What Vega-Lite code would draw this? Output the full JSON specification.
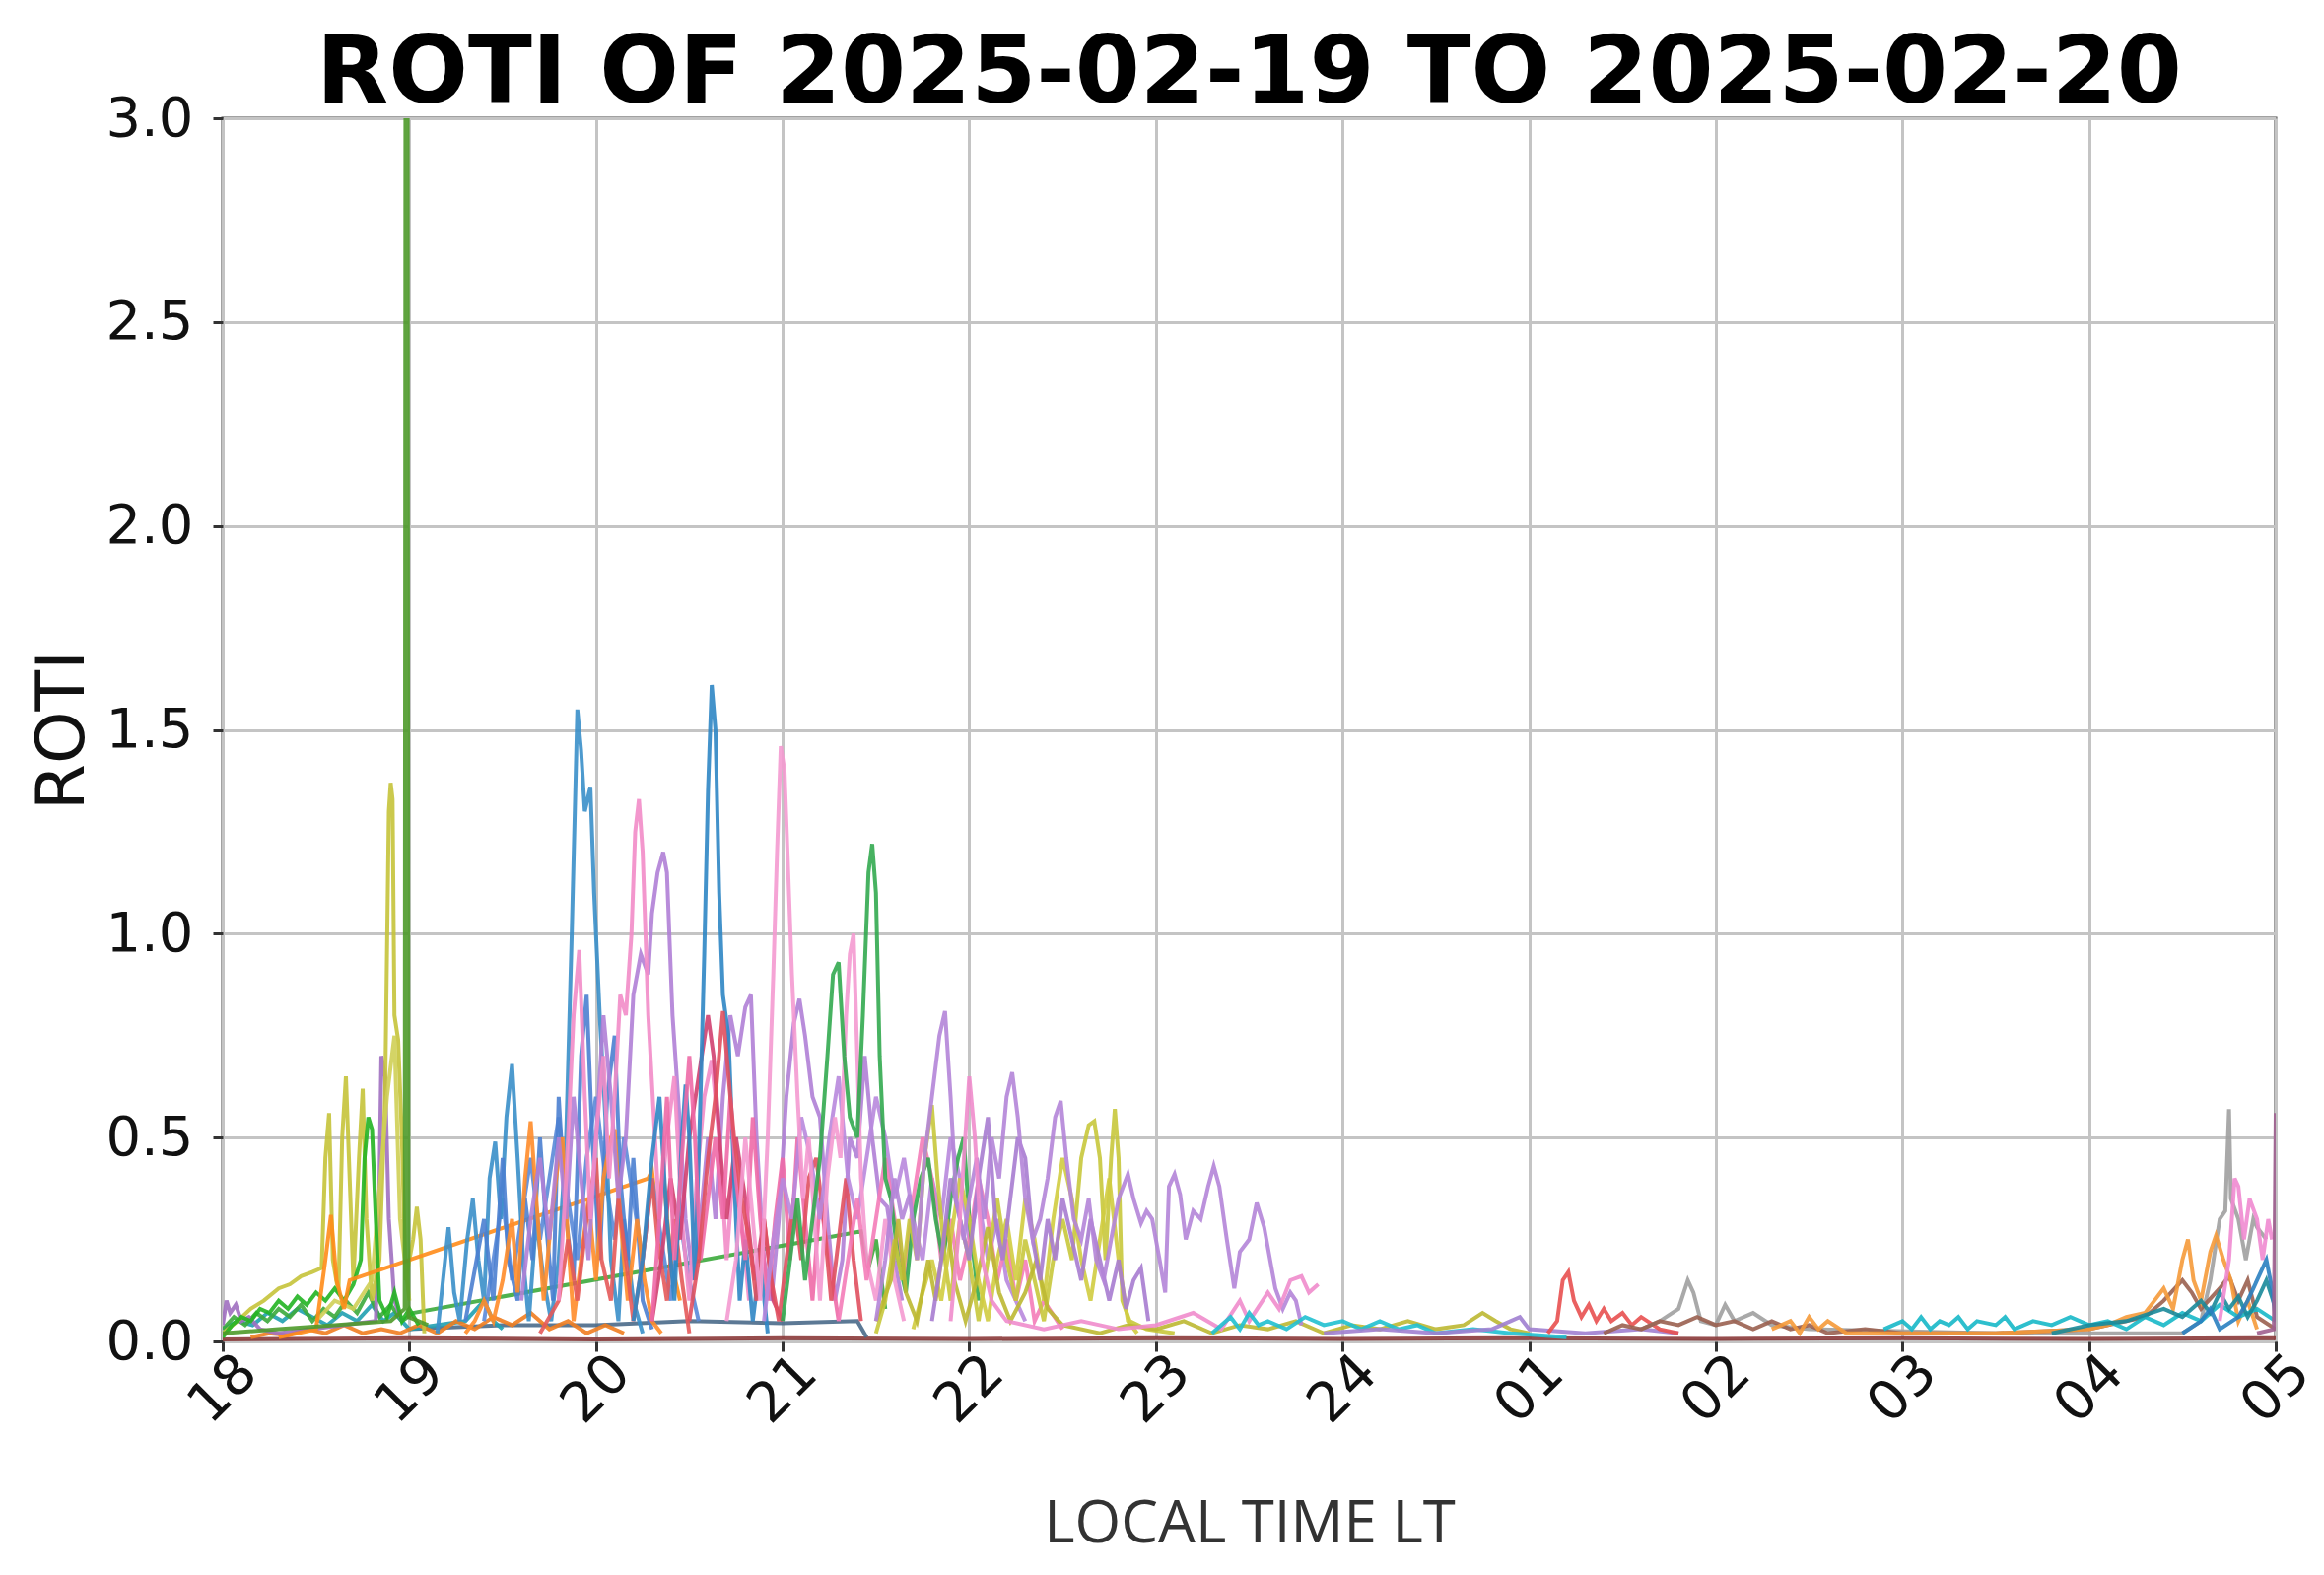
{
"$schema": "https://vega.github.io/schema/vega-lite/v6.json",
"width": 2083, "height": 1241,
"autosize": {"type": "none"},
"padding": {"left": 226, "top": 120, "right": 49, "bottom": 237},
"background": "white",
"title": {"text": "ROTI OF 2025-02-19 TO 2025-02-20", "font": "DejaVu Sans", "fontSize": 95, "fontWeight": "bold", "color": "#000", "anchor": "middle", "offset": -32},
"config": {"font": "DejaVu Sans", "view": {"stroke": "#444", "strokeWidth": 3}},
"data": {"values": [
{"sat":"BASE","t":18.0,"roti":0.005},{"sat":"BASE","t":19.0,"roti":0.008},{"sat":"BASE","t":20.0,"roti":0.005},{"sat":"BASE","t":21.0,"roti":0.008},{"sat":"BASE","t":22.0,"roti":0.006},{"sat":"BASE","t":23.0,"roti":0.008},{"sat":"BASE","t":24.0,"roti":0.006},{"sat":"BASE","t":25.0,"roti":0.008},{"sat":"BASE","t":26.0,"roti":0.006},{"sat":"BASE","t":27.0,"roti":0.008},{"sat":"BASE","t":28.0,"roti":0.006},{"sat":"BASE","t":29.0,"roti":0.008},
{"sat":"SL","t":19.0,"roti":0.03},{"sat":"SL","t":19.5,"roti":0.04},{"sat":"SL","t":20.0,"roti":0.04},{"sat":"SL","t":20.5,"roti":0.05},{"sat":"SL","t":21.0,"roti":0.045},{"sat":"SL","t":21.4,"roti":0.05},{"sat":"SL","t":21.45,"roti":0.01},
{"sat":"C2","t":18.0,"roti":0.03},{"sat":"C2","t":18.08,"roti":0.05},{"sat":"C2","t":18.16,"roti":0.04},{"sat":"C2","t":18.24,"roti":0.07},{"sat":"C2","t":18.32,"roti":0.05},{"sat":"C2","t":18.4,"roti":0.08},{"sat":"C2","t":18.48,"roti":0.06},{"sat":"C2","t":18.56,"roti":0.04},{"sat":"C2","t":18.64,"roti":0.07},{"sat":"C2","t":18.72,"roti":0.05},{"sat":"C2","t":18.8,"roti":0.09},{"sat":"C2","t":18.86,"roti":0.05},{"sat":"C2","t":18.92,"roti":0.07},{"sat":"C2","t":19.0,"roti":0.03},{"sat":"C2","t":19.3,"roti":0.05},{"sat":"C2","t":19.4,"roti":0.1},{"sat":"C2","t":19.45,"roti":0.05},{"sat":"C2","t":19.5,"roti":0.03},
{"sat":"O3","t":18.15,"roti":0.01},{"sat":"O3","t":18.25,"roti":0.02},{"sat":"O3","t":18.35,"roti":0.015},{"sat":"O3","t":18.45,"roti":0.03},{"sat":"O3","t":18.55,"roti":0.02},{"sat":"O3","t":18.65,"roti":0.04},{"sat":"O3","t":18.75,"roti":0.02},{"sat":"O3","t":18.85,"roti":0.03},{"sat":"O3","t":18.95,"roti":0.02},{"sat":"O3","t":19.05,"roti":0.04},{"sat":"O3","t":19.15,"roti":0.02},{"sat":"O3","t":19.25,"roti":0.05},{"sat":"O3","t":19.35,"roti":0.03},{"sat":"O3","t":19.45,"roti":0.06},{"sat":"O3","t":19.55,"roti":0.04},{"sat":"O3","t":19.65,"roti":0.07},{"sat":"O3","t":19.75,"roti":0.03},{"sat":"O3","t":19.85,"roti":0.05},{"sat":"O3","t":19.95,"roti":0.02},{"sat":"O3","t":20.05,"roti":0.04},{"sat":"O3","t":20.15,"roti":0.02},
{"sat":"G3","t":18.0,"roti":0.03},{"sat":"G3","t":18.06,"roti":0.06},{"sat":"G3","t":18.12,"roti":0.04},{"sat":"G3","t":18.18,"roti":0.07},{"sat":"G3","t":18.24,"roti":0.05},{"sat":"G3","t":18.3,"roti":0.08},{"sat":"G3","t":18.36,"roti":0.06},{"sat":"G3","t":18.42,"roti":0.09},{"sat":"G3","t":18.48,"roti":0.05},{"sat":"G3","t":18.54,"roti":0.08},{"sat":"G3","t":18.6,"roti":0.06},{"sat":"G3","t":18.66,"roti":0.1},{"sat":"G3","t":18.72,"roti":0.07},{"sat":"G3","t":18.78,"roti":0.12},{"sat":"G3","t":18.84,"roti":0.06},{"sat":"G3","t":18.9,"roti":0.09},{"sat":"G3","t":18.96,"roti":0.05},{"sat":"G3","t":19.02,"roti":0.07},{"sat":"G3","t":21.42,"roti":0.27},{"sat":"G3","t":21.46,"roti":0.18},{"sat":"G3","t":21.5,"roti":0.25},{"sat":"G3","t":21.55,"roti":0.08},
{"sat":"P0","t":18.0,"roti":0.04},{"sat":"P0","t":18.02,"roti":0.1},{"sat":"P0","t":18.04,"roti":0.07},{"sat":"P0","t":18.07,"roti":0.09},{"sat":"P0","t":18.1,"roti":0.05},{"sat":"P0","t":18.14,"roti":0.06},{"sat":"P0","t":18.2,"roti":0.03},{"sat":"P0","t":18.3,"roti":0.02},{"sat":"P0","t":18.82,"roti":0.05},{"sat":"P0","t":18.84,"roti":0.4},{"sat":"P0","t":18.85,"roti":0.7},{"sat":"P0","t":18.87,"roti":0.65},{"sat":"P0","t":18.89,"roti":0.3},{"sat":"P0","t":18.92,"roti":0.1},{"sat":"P0","t":18.96,"roti":0.05},
{"sat":"Y1","t":18.0,"roti":0.02},{"sat":"Y1","t":18.08,"roti":0.05},{"sat":"Y1","t":18.15,"roti":0.08},{"sat":"Y1","t":18.22,"roti":0.1},{"sat":"Y1","t":18.3,"roti":0.13},{"sat":"Y1","t":18.36,"roti":0.14},{"sat":"Y1","t":18.42,"roti":0.16},{"sat":"Y1","t":18.48,"roti":0.17},{"sat":"Y1","t":18.53,"roti":0.18},{"sat":"Y1","t":18.55,"roti":0.45},{"sat":"Y1","t":18.57,"roti":0.56},{"sat":"Y1","t":18.59,"roti":0.2},{"sat":"Y1","t":18.62,"roti":0.12},{"sat":"Y1","t":18.64,"roti":0.5},{"sat":"Y1","t":18.66,"roti":0.65},{"sat":"Y1","t":18.68,"roti":0.4},{"sat":"Y1","t":18.7,"roti":0.15},{"sat":"Y1","t":18.73,"roti":0.45},{"sat":"Y1","t":18.75,"roti":0.62},{"sat":"Y1","t":18.77,"roti":0.3},{"sat":"Y1","t":18.8,"roti":0.1},{"sat":"Y1","t":18.84,"roti":0.2},{"sat":"Y1","t":18.87,"roti":0.6},{"sat":"Y1","t":18.89,"roti":1.3},{"sat":"Y1","t":18.9,"roti":1.37},{"sat":"Y1","t":18.91,"roti":1.33},{"sat":"Y1","t":18.92,"roti":0.8},{"sat":"Y1","t":18.94,"roti":0.74},{"sat":"Y1","t":18.96,"roti":0.5},{"sat":"Y1","t":18.98,"roti":0.15},{"sat":"Y1","t":19.02,"roti":0.25},{"sat":"Y1","t":19.04,"roti":0.33},{"sat":"Y1","t":19.06,"roti":0.25},{"sat":"Y1","t":19.08,"roti":0.02},
{"sat":"Y2","t":18.5,"roti":0.05},{"sat":"Y2","t":18.6,"roti":0.1},{"sat":"Y2","t":18.7,"roti":0.08},{"sat":"Y2","t":18.8,"roti":0.15},{"sat":"Y2","t":18.88,"roti":0.6},{"sat":"Y2","t":18.92,"roti":0.75},{"sat":"Y2","t":18.95,"roti":0.3},{"sat":"Y2","t":19.0,"roti":0.1},
{"sat":"G2","t":18.0,"roti":0.01},{"sat":"G2","t":18.05,"roti":0.04},{"sat":"G2","t":18.1,"roti":0.06},{"sat":"G2","t":18.15,"roti":0.05},{"sat":"G2","t":18.2,"roti":0.08},{"sat":"G2","t":18.25,"roti":0.07},{"sat":"G2","t":18.3,"roti":0.1},{"sat":"G2","t":18.35,"roti":0.08},{"sat":"G2","t":18.4,"roti":0.11},{"sat":"G2","t":18.45,"roti":0.09},{"sat":"G2","t":18.5,"roti":0.12},{"sat":"G2","t":18.55,"roti":0.1},{"sat":"G2","t":18.6,"roti":0.13},{"sat":"G2","t":18.65,"roti":0.1},{"sat":"G2","t":18.7,"roti":0.14},{"sat":"G2","t":18.74,"roti":0.2},{"sat":"G2","t":18.76,"roti":0.45},{"sat":"G2","t":18.78,"roti":0.55},{"sat":"G2","t":18.8,"roti":0.52},{"sat":"G2","t":18.82,"roti":0.3},{"sat":"G2","t":18.84,"roti":0.1},{"sat":"G2","t":18.88,"roti":0.06},{"sat":"G2","t":18.92,"roti":0.12},{"sat":"G2","t":18.96,"roti":0.05},{"sat":"G2","t":19.0,"roti":0.08},{"sat":"G2","t":19.05,"roti":0.04},
{"sat":"O1","t":18.3,"roti":0.01},{"sat":"O1","t":18.4,"roti":0.02},{"sat":"O1","t":18.5,"roti":0.03},{"sat":"O1","t":18.55,"roti":0.2},{"sat":"O1","t":18.58,"roti":0.31},{"sat":"O1","t":18.61,"roti":0.15},{"sat":"O1","t":18.65,"roti":0.08},{"sat":"O1","t":18.68,"roti":0.15},{"sat":"O1","t":20.28,"roti":0.4},{"sat":"O1","t":20.3,"roti":0.42},{"sat":"O1","t":20.33,"roti":0.3},{"sat":"O1","t":20.36,"roti":0.42},{"sat":"O1","t":20.4,"roti":0.2},{"sat":"O1","t":20.45,"roti":0.1},
{"sat":"G1","t":18.0,"roti":0.02},{"sat":"G1","t":18.3,"roti":0.03},{"sat":"G1","t":18.6,"roti":0.04},{"sat":"G1","t":18.9,"roti":0.05},{"sat":"G1","t":18.975,"roti":0.08},{"sat":"G1","t":18.98,"roti":3.6},{"sat":"G1","t":18.99,"roti":3.6},{"sat":"G1","t":18.995,"roti":0.06},{"sat":"G1","t":19.1,"roti":0.04},
{"sat":"B4","t":19.4,"roti":0.05},{"sat":"B4","t":19.45,"roti":0.2},{"sat":"B4","t":19.5,"roti":0.35},{"sat":"B4","t":19.55,"roti":0.15},{"sat":"B4","t":19.6,"roti":0.3},{"sat":"B4","t":19.65,"roti":0.45},{"sat":"B4","t":19.7,"roti":0.25},{"sat":"B4","t":19.75,"roti":0.4},{"sat":"B4","t":19.8,"roti":0.55},{"sat":"B4","t":19.85,"roti":0.35},{"sat":"B4","t":19.9,"roti":0.2},{"sat":"B4","t":19.95,"roti":0.45},{"sat":"B4","t":20.0,"roti":0.6},{"sat":"B4","t":20.05,"roti":0.4},{"sat":"B4","t":20.1,"roti":0.25},{"sat":"B4","t":20.15,"roti":0.5},{"sat":"B4","t":20.2,"roti":0.35},{"sat":"B4","t":20.25,"roti":0.2},{"sat":"B4","t":20.3,"roti":0.4},{"sat":"B4","t":20.35,"roti":0.25},{"sat":"B4","t":20.4,"roti":0.1},{"sat":"B4","t":20.45,"roti":0.3},{"sat":"B4","t":20.5,"roti":0.15},{"sat":"B4","t":20.55,"roti":0.05},
{"sat":"B1","t":19.15,"roti":0.02},{"sat":"B1","t":19.18,"roti":0.15},{"sat":"B1","t":19.21,"roti":0.28},{"sat":"B1","t":19.24,"roti":0.12},{"sat":"B1","t":19.27,"roti":0.05},{"sat":"B1","t":19.31,"roti":0.25},{"sat":"B1","t":19.34,"roti":0.35},{"sat":"B1","t":19.37,"roti":0.2},{"sat":"B1","t":19.4,"roti":0.1},{"sat":"B1","t":19.43,"roti":0.4},{"sat":"B1","t":19.46,"roti":0.49},{"sat":"B1","t":19.49,"roti":0.3},{"sat":"B1","t":19.52,"roti":0.55},{"sat":"B1","t":19.55,"roti":0.68},{"sat":"B1","t":19.58,"roti":0.45},{"sat":"B1","t":19.61,"roti":0.2},{"sat":"B1","t":19.64,"roti":0.05},{"sat":"B1","t":19.68,"roti":0.3},{"sat":"B1","t":19.72,"roti":0.15},{"sat":"B1","t":19.76,"roti":0.05},{"sat":"B1","t":19.8,"roti":0.2},{"sat":"B1","t":19.84,"roti":0.5},{"sat":"B1","t":19.87,"roti":1.0},{"sat":"B1","t":19.9,"roti":1.55},{"sat":"B1","t":19.92,"roti":1.45},{"sat":"B1","t":19.94,"roti":1.3},{"sat":"B1","t":19.97,"roti":1.36},{"sat":"B1","t":19.99,"roti":1.1},{"sat":"B1","t":20.02,"roti":0.8},{"sat":"B1","t":20.05,"roti":0.55},{"sat":"B1","t":20.08,"roti":0.2},{"sat":"B1","t":20.12,"roti":0.05},{"sat":"B1","t":20.15,"roti":0.3},{"sat":"B1","t":20.2,"roti":0.1},{"sat":"B1","t":20.25,"roti":0.02},
{"sat":"B3","t":19.3,"roti":0.05},{"sat":"B3","t":19.36,"roti":0.2},{"sat":"B3","t":19.4,"roti":0.3},{"sat":"B3","t":19.45,"roti":0.1},{"sat":"B3","t":19.5,"roti":0.45},{"sat":"B3","t":19.53,"roti":0.2},{"sat":"B3","t":19.58,"roti":0.1},{"sat":"B3","t":19.62,"roti":0.35},{"sat":"B3","t":19.66,"roti":0.2},{"sat":"B3","t":19.7,"roti":0.5},{"sat":"B3","t":19.73,"roti":0.3},{"sat":"B3","t":19.77,"roti":0.1},{"sat":"B3","t":19.8,"roti":0.6},{"sat":"B3","t":19.84,"roti":0.3},{"sat":"B3","t":19.88,"roti":0.15},{"sat":"B3","t":19.92,"roti":0.7},{"sat":"B3","t":19.95,"roti":0.85},{"sat":"B3","t":19.98,"roti":0.5},{"sat":"B3","t":20.02,"roti":0.2},{"sat":"B3","t":20.06,"roti":0.6},{"sat":"B3","t":20.1,"roti":0.75},{"sat":"B3","t":20.13,"roti":0.4},{"sat":"B3","t":20.17,"roti":0.2},{"sat":"B3","t":20.2,"roti":0.45},{"sat":"B3","t":20.25,"roti":0.1},{"sat":"B3","t":20.3,"roti":0.03},
{"sat":"O2","t":19.3,"roti":0.02},{"sat":"O2","t":19.35,"roti":0.05},{"sat":"O2","t":19.4,"roti":0.1},{"sat":"O2","t":19.45,"roti":0.05},{"sat":"O2","t":19.5,"roti":0.15},{"sat":"O2","t":19.55,"roti":0.3},{"sat":"O2","t":19.58,"roti":0.12},{"sat":"O2","t":19.62,"roti":0.4},{"sat":"O2","t":19.65,"roti":0.54},{"sat":"O2","t":19.68,"roti":0.35},{"sat":"O2","t":19.72,"roti":0.1},{"sat":"O2","t":19.76,"roti":0.3},{"sat":"O2","t":19.8,"roti":0.45},{"sat":"O2","t":19.82,"roti":0.5},{"sat":"O2","t":19.85,"roti":0.25},{"sat":"O2","t":19.88,"roti":0.05},{"sat":"O2","t":19.92,"roti":0.2},{"sat":"O2","t":19.96,"roti":0.35},{"sat":"O2","t":20.0,"roti":0.15},{"sat":"O2","t":20.04,"roti":0.4},{"sat":"O2","t":20.08,"roti":0.5},{"sat":"O2","t":20.1,"roti":0.52},{"sat":"O2","t":20.13,"roti":0.3},{"sat":"O2","t":20.17,"roti":0.1},{"sat":"O2","t":20.22,"roti":0.3},{"sat":"O2","t":20.26,"roti":0.15},{"sat":"O2","t":20.3,"roti":0.05},{"sat":"O2","t":20.35,"roti":0.02},
{"sat":"R2","t":19.7,"roti":0.02},{"sat":"R2","t":19.8,"roti":0.1},{"sat":"R2","t":19.85,"roti":0.25},{"sat":"R2","t":19.9,"roti":0.1},{"sat":"R2","t":19.95,"roti":0.3},{"sat":"R2","t":20.0,"roti":0.45},{"sat":"R2","t":20.03,"roti":0.2},{"sat":"R2","t":20.08,"roti":0.1},{"sat":"R2","t":20.12,"roti":0.35},{"sat":"R2","t":20.16,"roti":0.2},{"sat":"R2","t":20.2,"roti":0.05},{"sat":"R2","t":20.25,"roti":0.2},{"sat":"R2","t":20.3,"roti":0.4},{"sat":"R2","t":20.33,"roti":0.25},{"sat":"R2","t":20.38,"roti":0.1},{"sat":"R2","t":20.42,"roti":0.3},{"sat":"R2","t":20.46,"roti":0.15},{"sat":"R2","t":20.5,"roti":0.02},
{"sat":"P1","t":19.6,"roti":0.1},{"sat":"P1","t":19.65,"roti":0.3},{"sat":"P1","t":19.7,"roti":0.45},{"sat":"P1","t":19.75,"roti":0.25},{"sat":"P1","t":19.8,"roti":0.5},{"sat":"P1","t":19.84,"roti":0.3},{"sat":"P1","t":19.88,"roti":0.6},{"sat":"P1","t":19.92,"roti":0.4},{"sat":"P1","t":19.96,"roti":0.2},{"sat":"P1","t":20.0,"roti":0.5},{"sat":"P1","t":20.04,"roti":0.8},{"sat":"P1","t":20.08,"roti":0.6},{"sat":"P1","t":20.12,"roti":0.35},{"sat":"P1","t":20.16,"roti":0.5},{"sat":"P1","t":20.2,"roti":0.85},{"sat":"P1","t":20.24,"roti":0.95},{"sat":"P1","t":20.28,"roti":0.9},{"sat":"P1","t":20.3,"roti":1.05},{"sat":"P1","t":20.33,"roti":1.15},{"sat":"P1","t":20.36,"roti":1.2},{"sat":"P1","t":20.38,"roti":1.15},{"sat":"P1","t":20.41,"roti":0.8},{"sat":"P1","t":20.44,"roti":0.6},{"sat":"P1","t":20.48,"roti":0.3},{"sat":"P1","t":20.52,"roti":0.15},{"sat":"P1","t":20.56,"roti":0.3},{"sat":"P1","t":20.6,"roti":0.5},{"sat":"P1","t":20.64,"roti":0.3},{"sat":"P1","t":20.68,"roti":0.6},{"sat":"P1","t":20.72,"roti":0.8},{"sat":"P1","t":20.76,"roti":0.7},{"sat":"P1","t":20.8,"roti":0.82},{"sat":"P1","t":20.83,"roti":0.85},{"sat":"P1","t":20.86,"roti":0.5},{"sat":"P1","t":20.9,"roti":0.2},{"sat":"P1","t":20.94,"roti":0.1},{"sat":"P1","t":20.98,"roti":0.3},{"sat":"P1","t":21.02,"roti":0.6},{"sat":"P1","t":21.06,"roti":0.78},{"sat":"P1","t":21.09,"roti":0.84},{"sat":"P1","t":21.12,"roti":0.75},{"sat":"P1","t":21.16,"roti":0.6},{"sat":"P1","t":21.2,"roti":0.55},{"sat":"P1","t":21.24,"roti":0.3},{"sat":"P1","t":21.28,"roti":0.1},{"sat":"P1","t":21.32,"roti":0.2},{"sat":"P1","t":21.36,"roti":0.5},{"sat":"P1","t":21.4,"roti":0.45},{"sat":"P1","t":21.44,"roti":0.7},{"sat":"P1","t":21.48,"roti":0.5},{"sat":"P1","t":21.52,"roti":0.35},{"sat":"P1","t":21.56,"roti":0.33},{"sat":"P1","t":21.6,"roti":0.2},{"sat":"P1","t":21.64,"roti":0.1},
{"sat":"K1","t":19.8,"roti":0.1},{"sat":"K1","t":19.84,"roti":0.4},{"sat":"K1","t":19.88,"roti":0.8},{"sat":"K1","t":19.91,"roti":0.96},{"sat":"K1","t":19.94,"roti":0.6},{"sat":"K1","t":19.97,"roti":0.3},{"sat":"K1","t":20.0,"roti":0.5},{"sat":"K1","t":20.04,"roti":0.7},{"sat":"K1","t":20.07,"roti":0.4},{"sat":"K1","t":20.1,"roti":0.6},{"sat":"K1","t":20.13,"roti":0.85},{"sat":"K1","t":20.16,"roti":0.8},{"sat":"K1","t":20.19,"roti":1.0},{"sat":"K1","t":20.21,"roti":1.25},{"sat":"K1","t":20.23,"roti":1.33},{"sat":"K1","t":20.25,"roti":1.2},{"sat":"K1","t":20.28,"roti":0.8},{"sat":"K1","t":20.31,"roti":0.55},{"sat":"K1","t":20.34,"roti":0.3},{"sat":"K1","t":20.38,"roti":0.5},{"sat":"K1","t":20.42,"roti":0.65},{"sat":"K1","t":20.46,"roti":0.3},{"sat":"K1","t":20.5,"roti":0.1},{"sat":"K1","t":20.54,"roti":0.4},{"sat":"K1","t":20.58,"roti":0.6},{"sat":"K1","t":20.62,"roti":0.69},{"sat":"K1","t":20.66,"roti":0.5},{"sat":"K1","t":20.7,"roti":0.2},{"sat":"K1","t":20.74,"roti":0.45},{"sat":"K1","t":20.78,"roti":0.3},{"sat":"K1","t":20.82,"roti":0.1},
{"sat":"M1","t":20.3,"roti":0.05},{"sat":"M1","t":20.35,"roti":0.2},{"sat":"M1","t":20.4,"roti":0.4},{"sat":"M1","t":20.45,"roti":0.25},{"sat":"M1","t":20.5,"roti":0.5},{"sat":"M1","t":20.55,"roti":0.65},{"sat":"M1","t":20.6,"roti":0.8},{"sat":"M1","t":20.63,"roti":0.7},{"sat":"M1","t":20.67,"roti":0.45},{"sat":"M1","t":20.7,"roti":0.3},{"sat":"M1","t":20.75,"roti":0.5},{"sat":"M1","t":20.8,"roti":0.35},{"sat":"M1","t":20.85,"roti":0.15},{"sat":"M1","t":20.9,"roti":0.3},{"sat":"M1","t":20.95,"roti":0.1},{"sat":"M1","t":21.0,"roti":0.05},
{"sat":"B2","t":20.2,"roti":0.05},{"sat":"B2","t":20.25,"roti":0.2},{"sat":"B2","t":20.3,"roti":0.45},{"sat":"B2","t":20.34,"roti":0.6},{"sat":"B2","t":20.38,"roti":0.3},{"sat":"B2","t":20.42,"roti":0.1},{"sat":"B2","t":20.46,"roti":0.5},{"sat":"B2","t":20.48,"roti":0.63},{"sat":"B2","t":20.5,"roti":0.5},{"sat":"B2","t":20.53,"roti":0.15},{"sat":"B2","t":20.56,"roti":0.6},{"sat":"B2","t":20.58,"roti":0.95},{"sat":"B2","t":20.6,"roti":1.35},{"sat":"B2","t":20.62,"roti":1.61},{"sat":"B2","t":20.64,"roti":1.5},{"sat":"B2","t":20.66,"roti":1.1},{"sat":"B2","t":20.68,"roti":0.85},{"sat":"B2","t":20.71,"roti":0.75},{"sat":"B2","t":20.74,"roti":0.4},{"sat":"B2","t":20.77,"roti":0.1},{"sat":"B2","t":20.8,"roti":0.25},{"sat":"B2","t":20.84,"roti":0.05},{"sat":"B2","t":20.88,"roti":0.2},{"sat":"B2","t":20.92,"roti":0.02},
{"sat":"K3","t":20.3,"roti":0.05},{"sat":"K3","t":20.34,"roti":0.3},{"sat":"K3","t":20.38,"roti":0.6},{"sat":"K3","t":20.42,"roti":0.2},{"sat":"K3","t":20.46,"roti":0.45},{"sat":"K3","t":20.5,"roti":0.7},{"sat":"K3","t":20.53,"roti":0.5},{"sat":"K3","t":20.56,"roti":0.2},{"sat":"K3","t":20.6,"roti":0.35},{"sat":"K3","t":20.64,"roti":0.5},{"sat":"K3","t":20.68,"roti":0.3},{"sat":"K3","t":20.72,"roti":0.6},{"sat":"K3","t":20.75,"roti":0.4},{"sat":"K3","t":20.8,"roti":0.2},{"sat":"K3","t":20.84,"roti":0.55},{"sat":"K3","t":20.88,"roti":0.3},{"sat":"K3","t":20.92,"roti":0.1},{"sat":"K3","t":20.96,"roti":0.3},{"sat":"K3","t":21.0,"roti":0.45},{"sat":"K3","t":21.04,"roti":0.2},{"sat":"K3","t":21.08,"roti":0.5},{"sat":"K3","t":21.12,"roti":0.3},{"sat":"K3","t":21.16,"roti":0.1},{"sat":"K3","t":21.2,"roti":0.35},{"sat":"K3","t":21.25,"roti":0.2},{"sat":"K3","t":21.3,"roti":0.05},
{"sat":"R1","t":20.5,"roti":0.05},{"sat":"R1","t":20.55,"roti":0.2},{"sat":"R1","t":20.6,"roti":0.45},{"sat":"R1","t":20.64,"roti":0.6},{"sat":"R1","t":20.68,"roti":0.81},{"sat":"R1","t":20.71,"roti":0.65},{"sat":"R1","t":20.74,"roti":0.5},{"sat":"R1","t":20.78,"roti":0.35},{"sat":"R1","t":20.82,"roti":0.25},{"sat":"R1","t":20.86,"roti":0.1},{"sat":"R1","t":20.9,"roti":0.3},{"sat":"R1","t":20.94,"roti":0.15},{"sat":"R1","t":20.98,"roti":0.05},{"sat":"R1","t":21.02,"roti":0.2},{"sat":"R1","t":21.06,"roti":0.35},{"sat":"R1","t":21.1,"roti":0.2},{"sat":"R1","t":21.14,"roti":0.4},{"sat":"R1","t":21.18,"roti":0.45},{"sat":"R1","t":21.22,"roti":0.3},{"sat":"R1","t":21.26,"roti":0.1},{"sat":"R1","t":21.3,"roti":0.25},{"sat":"R1","t":21.34,"roti":0.4},{"sat":"R1","t":21.38,"roti":0.2},{"sat":"R1","t":21.42,"roti":0.05},
{"sat":"P4","t":20.9,"roti":0.05},{"sat":"P4","t":20.95,"roti":0.25},{"sat":"P4","t":21.0,"roti":0.4},{"sat":"P4","t":21.05,"roti":0.3},{"sat":"P4","t":21.1,"roti":0.55},{"sat":"P4","t":21.15,"roti":0.45},{"sat":"P4","t":21.2,"roti":0.3},{"sat":"P4","t":21.25,"roti":0.5},{"sat":"P4","t":21.3,"roti":0.65},{"sat":"P4","t":21.35,"roti":0.4},{"sat":"P4","t":21.4,"roti":0.3},{"sat":"P4","t":21.45,"roti":0.45},{"sat":"P4","t":21.5,"roti":0.6},{"sat":"P4","t":21.55,"roti":0.5},{"sat":"P4","t":21.6,"roti":0.35},{"sat":"P4","t":21.65,"roti":0.45},{"sat":"P4","t":21.7,"roti":0.3},{"sat":"P4","t":21.75,"roti":0.2},{"sat":"P4","t":21.8,"roti":0.4},{"sat":"P4","t":21.85,"roti":0.3},{"sat":"P4","t":21.9,"roti":0.5},{"sat":"P4","t":21.95,"roti":0.4},{"sat":"P4","t":22.0,"roti":0.25},{"sat":"P4","t":22.05,"roti":0.35},{"sat":"P4","t":22.1,"roti":0.2},{"sat":"P4","t":22.15,"roti":0.3},{"sat":"P4","t":22.2,"roti":0.15},{"sat":"P4","t":22.25,"roti":0.1},{"sat":"P4","t":22.3,"roti":0.05},
{"sat":"K2","t":20.7,"roti":0.05},{"sat":"K2","t":20.75,"roti":0.2},{"sat":"K2","t":20.8,"roti":0.5},{"sat":"K2","t":20.84,"roti":0.3},{"sat":"K2","t":20.88,"roti":0.1},{"sat":"K2","t":20.92,"roti":0.5},{"sat":"K2","t":20.95,"roti":0.9},{"sat":"K2","t":20.97,"roti":1.2},{"sat":"K2","t":20.99,"roti":1.46},{"sat":"K2","t":21.01,"roti":1.4},{"sat":"K2","t":21.03,"roti":1.15},{"sat":"K2","t":21.05,"roti":0.9},{"sat":"K2","t":21.08,"roti":0.6},{"sat":"K2","t":21.11,"roti":0.35},{"sat":"K2","t":21.14,"roti":0.5},{"sat":"K2","t":21.17,"roti":0.3},{"sat":"K2","t":21.2,"roti":0.1},{"sat":"K2","t":21.24,"roti":0.4},{"sat":"K2","t":21.28,"roti":0.55},{"sat":"K2","t":21.31,"roti":0.45},{"sat":"K2","t":21.34,"roti":0.8},{"sat":"K2","t":21.36,"roti":0.95},{"sat":"K2","t":21.38,"roti":1.0},{"sat":"K2","t":21.4,"roti":0.7},{"sat":"K2","t":21.42,"roti":0.4},{"sat":"K2","t":21.45,"roti":0.2},{"sat":"K2","t":21.5,"roti":0.1},{"sat":"K2","t":21.55,"roti":0.3},{"sat":"K2","t":21.6,"roti":0.15},{"sat":"K2","t":21.65,"roti":0.05},
{"sat":"K5","t":21.3,"roti":0.05},{"sat":"K5","t":21.35,"roti":0.2},{"sat":"K5","t":21.4,"roti":0.35},{"sat":"K5","t":21.45,"roti":0.15},{"sat":"K5","t":21.5,"roti":0.3},{"sat":"K5","t":21.55,"roti":0.45},{"sat":"K5","t":21.6,"roti":0.3},{"sat":"K5","t":21.65,"roti":0.15},{"sat":"K5","t":21.7,"roti":0.35},{"sat":"K5","t":21.75,"roti":0.5},{"sat":"K5","t":21.8,"roti":0.4},{"sat":"K5","t":21.85,"roti":0.2},{"sat":"K5","t":21.9,"roti":0.3},{"sat":"K5","t":21.95,"roti":0.15},{"sat":"K5","t":22.0,"roti":0.25},{"sat":"K5","t":22.05,"roti":0.4},{"sat":"K5","t":22.1,"roti":0.3},{"sat":"K5","t":22.15,"roti":0.15},{"sat":"K5","t":22.2,"roti":0.25},{"sat":"K5","t":22.25,"roti":0.1},{"sat":"K5","t":22.3,"roti":0.2},{"sat":"K5","t":22.35,"roti":0.05},{"sat":"K5","t":22.4,"roti":0.1},{"sat":"K5","t":22.5,"roti":0.03},
{"sat":"GR","t":21.0,"roti":0.05},{"sat":"GR","t":21.04,"roti":0.2},{"sat":"GR","t":21.08,"roti":0.35},{"sat":"GR","t":21.12,"roti":0.15},{"sat":"GR","t":21.16,"roti":0.3},{"sat":"GR","t":21.2,"roti":0.45},{"sat":"GR","t":21.24,"roti":0.7},{"sat":"GR","t":21.27,"roti":0.9},{"sat":"GR","t":21.3,"roti":0.93},{"sat":"GR","t":21.33,"roti":0.7},{"sat":"GR","t":21.36,"roti":0.55},{"sat":"GR","t":21.4,"roti":0.5},{"sat":"GR","t":21.43,"roti":0.8},{"sat":"GR","t":21.46,"roti":1.15},{"sat":"GR","t":21.48,"roti":1.22},{"sat":"GR","t":21.5,"roti":1.1},{"sat":"GR","t":21.52,"roti":0.7},{"sat":"GR","t":21.55,"roti":0.4},{"sat":"GR","t":21.58,"roti":0.35},{"sat":"GR","t":21.62,"roti":0.2},{"sat":"GR","t":21.66,"roti":0.12},{"sat":"GR","t":21.7,"roti":0.3},{"sat":"GR","t":21.74,"roti":0.4},{"sat":"GR","t":21.78,"roti":0.45},{"sat":"GR","t":21.82,"roti":0.3},{"sat":"GR","t":21.86,"roti":0.2},{"sat":"GR","t":21.9,"roti":0.35},{"sat":"GR","t":21.94,"roti":0.45},{"sat":"GR","t":21.97,"roti":0.5},{"sat":"GR","t":22.0,"roti":0.3},{"sat":"GR","t":22.05,"roti":0.1},
{"sat":"Y3","t":21.5,"roti":0.02},{"sat":"Y3","t":21.55,"roti":0.1},{"sat":"Y3","t":21.6,"roti":0.25},{"sat":"Y3","t":21.64,"roti":0.15},{"sat":"Y3","t":21.68,"roti":0.3},{"sat":"Y3","t":21.72,"roti":0.2},{"sat":"Y3","t":21.76,"roti":0.45},{"sat":"Y3","t":21.8,"roti":0.58},{"sat":"Y3","t":21.83,"roti":0.4},{"sat":"Y3","t":21.87,"roti":0.2},{"sat":"Y3","t":21.9,"roti":0.1},{"sat":"Y3","t":21.95,"roti":0.3},{"sat":"Y3","t":22.0,"roti":0.2},{"sat":"Y3","t":22.05,"roti":0.05},{"sat":"Y3","t":22.1,"roti":0.2},{"sat":"Y3","t":22.15,"roti":0.35},{"sat":"Y3","t":22.2,"roti":0.2},{"sat":"Y3","t":22.25,"roti":0.1},{"sat":"Y3","t":22.3,"roti":0.25},{"sat":"Y3","t":22.35,"roti":0.15},{"sat":"Y3","t":22.4,"roti":0.05},{"sat":"Y3","t":22.45,"roti":0.2},{"sat":"Y3","t":22.5,"roti":0.3},{"sat":"Y3","t":22.55,"roti":0.2},{"sat":"Y3","t":22.6,"roti":0.45},{"sat":"Y3","t":22.64,"roti":0.53},{"sat":"Y3","t":22.67,"roti":0.54},{"sat":"Y3","t":22.7,"roti":0.45},{"sat":"Y3","t":22.73,"roti":0.2},{"sat":"Y3","t":22.76,"roti":0.45},{"sat":"Y3","t":22.78,"roti":0.57},{"sat":"Y3","t":22.8,"roti":0.45},{"sat":"Y3","t":22.82,"roti":0.1},{"sat":"Y3","t":22.86,"roti":0.05},{"sat":"Y3","t":22.95,"roti":0.03},{"sat":"Y3","t":23.1,"roti":0.02},
{"sat":"Y5","t":21.7,"roti":0.03},{"sat":"Y5","t":21.75,"roti":0.12},{"sat":"Y5","t":21.8,"roti":0.2},{"sat":"Y5","t":21.85,"roti":0.1},{"sat":"Y5","t":21.9,"roti":0.25},{"sat":"Y5","t":21.95,"roti":0.4},{"sat":"Y5","t":22.0,"roti":0.3},{"sat":"Y5","t":22.05,"roti":0.15},{"sat":"Y5","t":22.1,"roti":0.05},{"sat":"Y5","t":22.15,"roti":0.2},{"sat":"Y5","t":22.2,"roti":0.3},{"sat":"Y5","t":22.25,"roti":0.15},{"sat":"Y5","t":22.3,"roti":0.35},{"sat":"Y5","t":22.35,"roti":0.25},{"sat":"Y5","t":22.4,"roti":0.1},{"sat":"Y5","t":22.45,"roti":0.3},{"sat":"Y5","t":22.5,"roti":0.45},{"sat":"Y5","t":22.55,"roti":0.35},{"sat":"Y5","t":22.6,"roti":0.2},{"sat":"Y5","t":22.65,"roti":0.1},{"sat":"Y5","t":22.7,"roti":0.25},{"sat":"Y5","t":22.75,"roti":0.4},{"sat":"Y5","t":22.8,"roti":0.2},{"sat":"Y5","t":22.85,"roti":0.05},{"sat":"Y5","t":22.9,"roti":0.02},
{"sat":"Y4","t":21.5,"roti":0.05},{"sat":"Y4","t":21.58,"roti":0.15},{"sat":"Y4","t":21.62,"roti":0.3},{"sat":"Y4","t":21.66,"roti":0.12},{"sat":"Y4","t":21.72,"roti":0.05},{"sat":"Y4","t":21.78,"roti":0.2},{"sat":"Y4","t":21.82,"roti":0.1},{"sat":"Y4","t":21.88,"roti":0.3},{"sat":"Y4","t":21.92,"roti":0.15},{"sat":"Y4","t":21.98,"roti":0.05},{"sat":"Y4","t":22.04,"roti":0.15},{"sat":"Y4","t":22.1,"roti":0.28},{"sat":"Y4","t":22.16,"roti":0.12},{"sat":"Y4","t":22.22,"roti":0.05},{"sat":"Y4","t":22.3,"roti":0.12},{"sat":"Y4","t":22.36,"roti":0.2},{"sat":"Y4","t":22.42,"roti":0.08},{"sat":"Y4","t":22.5,"roti":0.04},{"sat":"Y4","t":22.7,"roti":0.02},{"sat":"Y4","t":22.85,"roti":0.04},{"sat":"Y4","t":23.0,"roti":0.03},{"sat":"Y4","t":23.15,"roti":0.05},{"sat":"Y4","t":23.3,"roti":0.02},{"sat":"Y4","t":23.45,"roti":0.04},{"sat":"Y4","t":23.6,"roti":0.03},{"sat":"Y4","t":23.75,"roti":0.05},{"sat":"Y4","t":23.9,"roti":0.02},{"sat":"Y4","t":24.05,"roti":0.04},{"sat":"Y4","t":24.2,"roti":0.03},{"sat":"Y4","t":24.35,"roti":0.05},{"sat":"Y4","t":24.5,"roti":0.03},{"sat":"Y4","t":24.65,"roti":0.04},{"sat":"Y4","t":24.75,"roti":0.07},{"sat":"Y4","t":24.82,"roti":0.05},{"sat":"Y4","t":24.9,"roti":0.03},{"sat":"Y4","t":25.0,"roti":0.02},
{"sat":"P3","t":21.8,"roti":0.05},{"sat":"P3","t":21.85,"roti":0.2},{"sat":"P3","t":21.9,"roti":0.4},{"sat":"P3","t":21.95,"roti":0.3},{"sat":"P3","t":22.0,"roti":0.2},{"sat":"P3","t":22.05,"roti":0.4},{"sat":"P3","t":22.1,"roti":0.55},{"sat":"P3","t":22.14,"roti":0.3},{"sat":"P3","t":22.18,"roti":0.2},{"sat":"P3","t":22.22,"roti":0.35},{"sat":"P3","t":22.26,"roti":0.5},{"sat":"P3","t":22.3,"roti":0.45},{"sat":"P3","t":22.34,"roti":0.25},{"sat":"P3","t":22.38,"roti":0.15},{"sat":"P3","t":22.42,"roti":0.3},{"sat":"P3","t":22.46,"roti":0.2},{"sat":"P3","t":22.5,"roti":0.35},{"sat":"P3","t":22.55,"roti":0.25},{"sat":"P3","t":22.6,"roti":0.15},{"sat":"P3","t":22.65,"roti":0.3},{"sat":"P3","t":22.7,"roti":0.2},{"sat":"P3","t":22.75,"roti":0.1},{"sat":"P3","t":22.8,"roti":0.2},{"sat":"P3","t":22.84,"roti":0.08},{"sat":"P3","t":22.88,"roti":0.15},{"sat":"P3","t":22.92,"roti":0.18},{"sat":"P3","t":22.96,"roti":0.05},
{"sat":"P2","t":21.5,"roti":0.05},{"sat":"P2","t":21.55,"roti":0.2},{"sat":"P2","t":21.6,"roti":0.4},{"sat":"P2","t":21.64,"roti":0.3},{"sat":"P2","t":21.68,"roti":0.36},{"sat":"P2","t":21.72,"roti":0.2},{"sat":"P2","t":21.76,"roti":0.45},{"sat":"P2","t":21.8,"roti":0.6},{"sat":"P2","t":21.84,"roti":0.75},{"sat":"P2","t":21.87,"roti":0.81},{"sat":"P2","t":21.9,"roti":0.6},{"sat":"P2","t":21.93,"roti":0.35},{"sat":"P2","t":21.97,"roti":0.25},{"sat":"P2","t":22.0,"roti":0.35},{"sat":"P2","t":22.04,"roti":0.45},{"sat":"P2","t":22.08,"roti":0.3},{"sat":"P2","t":22.12,"roti":0.5},{"sat":"P2","t":22.16,"roti":0.4},{"sat":"P2","t":22.2,"roti":0.6},{"sat":"P2","t":22.23,"roti":0.66},{"sat":"P2","t":22.26,"roti":0.55},{"sat":"P2","t":22.3,"roti":0.35},{"sat":"P2","t":22.34,"roti":0.25},{"sat":"P2","t":22.38,"roti":0.3},{"sat":"P2","t":22.42,"roti":0.4},{"sat":"P2","t":22.46,"roti":0.55},{"sat":"P2","t":22.49,"roti":0.59},{"sat":"P2","t":22.52,"roti":0.45},{"sat":"P2","t":22.56,"roti":0.3},{"sat":"P2","t":22.6,"roti":0.25},{"sat":"P2","t":22.64,"roti":0.35},{"sat":"P2","t":22.68,"roti":0.2},{"sat":"P2","t":22.72,"roti":0.15},{"sat":"P2","t":22.76,"roti":0.25},{"sat":"P2","t":22.8,"roti":0.35},{"sat":"P2","t":22.85,"roti":0.41},{"sat":"P2","t":22.88,"roti":0.35},{"sat":"P2","t":22.92,"roti":0.29},{"sat":"P2","t":22.95,"roti":0.32},{"sat":"P2","t":22.98,"roti":0.3},{"sat":"P2","t":23.02,"roti":0.2},{"sat":"P2","t":23.05,"roti":0.12},{"sat":"P2","t":23.07,"roti":0.38},{"sat":"P2","t":23.1,"roti":0.41},{"sat":"P2","t":23.13,"roti":0.36},{"sat":"P2","t":23.16,"roti":0.25},{"sat":"P2","t":23.2,"roti":0.32},{"sat":"P2","t":23.24,"roti":0.3},{"sat":"P2","t":23.28,"roti":0.38},{"sat":"P2","t":23.31,"roti":0.43},{"sat":"P2","t":23.34,"roti":0.38},{"sat":"P2","t":23.38,"roti":0.25},{"sat":"P2","t":23.42,"roti":0.13},{"sat":"P2","t":23.45,"roti":0.22},{"sat":"P2","t":23.5,"roti":0.25},{"sat":"P2","t":23.54,"roti":0.34},{"sat":"P2","t":23.58,"roti":0.28},{"sat":"P2","t":23.62,"roti":0.18},{"sat":"P2","t":23.64,"roti":0.13},{"sat":"P2","t":23.68,"roti":0.08},{"sat":"P2","t":23.72,"roti":0.12},{"sat":"P2","t":23.75,"roti":0.1},{"sat":"P2","t":23.78,"roti":0.04},
{"sat":"K4","t":21.9,"roti":0.05},{"sat":"K4","t":21.95,"roti":0.3},{"sat":"K4","t":22.0,"roti":0.65},{"sat":"K4","t":22.03,"roti":0.5},{"sat":"K4","t":22.07,"roti":0.2},{"sat":"K4","t":22.12,"roti":0.1},{"sat":"K4","t":22.2,"roti":0.05},{"sat":"K4","t":22.4,"roti":0.03},{"sat":"K4","t":22.6,"roti":0.05},{"sat":"K4","t":22.8,"roti":0.03},{"sat":"K4","t":23.0,"roti":0.04},{"sat":"K4","t":23.2,"roti":0.07},{"sat":"K4","t":23.35,"roti":0.03},{"sat":"K4","t":23.45,"roti":0.1},{"sat":"K4","t":23.5,"roti":0.05},{"sat":"K4","t":23.6,"roti":0.12},{"sat":"K4","t":23.66,"roti":0.08},{"sat":"K4","t":23.72,"roti":0.15},{"sat":"K4","t":23.78,"roti":0.16},{"sat":"K4","t":23.82,"roti":0.12},{"sat":"K4","t":23.87,"roti":0.14},
{"sat":"CY1","t":23.3,"roti":0.02},{"sat":"CY1","t":23.4,"roti":0.06},{"sat":"CY1","t":23.45,"roti":0.03},{"sat":"CY1","t":23.5,"roti":0.07},{"sat":"CY1","t":23.55,"roti":0.04},{"sat":"CY1","t":23.6,"roti":0.05},{"sat":"CY1","t":23.7,"roti":0.03},{"sat":"CY1","t":23.8,"roti":0.06},{"sat":"CY1","t":23.9,"roti":0.04},{"sat":"CY1","t":24.0,"roti":0.05},{"sat":"CY1","t":24.1,"roti":0.03},{"sat":"CY1","t":24.2,"roti":0.05},{"sat":"CY1","t":24.3,"roti":0.03},{"sat":"CY1","t":24.4,"roti":0.04},{"sat":"CY1","t":24.5,"roti":0.02},{"sat":"CY1","t":24.7,"roti":0.03},{"sat":"CY1","t":24.9,"roti":0.02},{"sat":"CY1","t":25.2,"roti":0.01},
{"sat":"PM","t":23.9,"roti":0.02},{"sat":"PM","t":24.2,"roti":0.03},{"sat":"PM","t":24.5,"roti":0.02},{"sat":"PM","t":24.8,"roti":0.03},{"sat":"PM","t":24.9,"roti":0.05},{"sat":"PM","t":24.95,"roti":0.06},{"sat":"PM","t":25.0,"roti":0.03},{"sat":"PM","t":25.3,"roti":0.02},{"sat":"PM","t":25.6,"roti":0.03},{"sat":"PM","t":25.8,"roti":0.02},
{"sat":"RL","t":25.1,"roti":0.02},{"sat":"RL","t":25.15,"roti":0.05},{"sat":"RL","t":25.18,"roti":0.15},{"sat":"RL","t":25.21,"roti":0.17},{"sat":"RL","t":25.24,"roti":0.1},{"sat":"RL","t":25.28,"roti":0.06},{"sat":"RL","t":25.32,"roti":0.09},{"sat":"RL","t":25.36,"roti":0.05},{"sat":"RL","t":25.4,"roti":0.08},{"sat":"RL","t":25.44,"roti":0.05},{"sat":"RL","t":25.5,"roti":0.07},{"sat":"RL","t":25.55,"roti":0.04},{"sat":"RL","t":25.6,"roti":0.06},{"sat":"RL","t":25.7,"roti":0.03},{"sat":"RL","t":25.8,"roti":0.02},
{"sat":"GY","t":25.6,"roti":0.03},{"sat":"GY","t":25.7,"roti":0.05},{"sat":"GY","t":25.8,"roti":0.08},{"sat":"GY","t":25.85,"roti":0.15},{"sat":"GY","t":25.88,"roti":0.12},{"sat":"GY","t":25.92,"roti":0.05},{"sat":"GY","t":26.0,"roti":0.04},{"sat":"GY","t":26.05,"roti":0.09},{"sat":"GY","t":26.1,"roti":0.05},{"sat":"GY","t":26.2,"roti":0.07},{"sat":"GY","t":26.3,"roti":0.04},{"sat":"GY","t":26.5,"roti":0.03},{"sat":"GY","t":27.5,"roti":0.02},{"sat":"GY","t":28.5,"roti":0.02},{"sat":"GY","t":28.6,"roti":0.05},{"sat":"GY","t":28.65,"roti":0.15},{"sat":"GY","t":28.7,"roti":0.3},{"sat":"GY","t":28.73,"roti":0.32},{"sat":"GY","t":28.75,"roti":0.57},{"sat":"GY","t":28.76,"roti":0.35},{"sat":"GY","t":28.8,"roti":0.3},{"sat":"GY","t":28.84,"roti":0.2},{"sat":"GY","t":28.88,"roti":0.3},{"sat":"GY","t":28.9,"roti":0.28},{"sat":"GY","t":28.95,"roti":0.25},
{"sat":"BR","t":25.4,"roti":0.02},{"sat":"BR","t":25.5,"roti":0.04},{"sat":"BR","t":25.6,"roti":0.03},{"sat":"BR","t":25.7,"roti":0.05},{"sat":"BR","t":25.8,"roti":0.04},{"sat":"BR","t":25.9,"roti":0.06},{"sat":"BR","t":26.0,"roti":0.04},{"sat":"BR","t":26.1,"roti":0.05},{"sat":"BR","t":26.2,"roti":0.03},{"sat":"BR","t":26.3,"roti":0.05},{"sat":"BR","t":26.4,"roti":0.03},{"sat":"BR","t":26.5,"roti":0.04},{"sat":"BR","t":26.6,"roti":0.02},{"sat":"BR","t":26.8,"roti":0.03},{"sat":"BR","t":27.0,"roti":0.02},{"sat":"BR","t":27.5,"roti":0.02},{"sat":"BR","t":28.0,"roti":0.03},{"sat":"BR","t":28.3,"roti":0.06},{"sat":"BR","t":28.4,"roti":0.1},{"sat":"BR","t":28.5,"roti":0.15},{"sat":"BR","t":28.55,"roti":0.12},{"sat":"BR","t":28.6,"roti":0.08},{"sat":"BR","t":28.7,"roti":0.13},{"sat":"BR","t":28.75,"roti":0.16},{"sat":"BR","t":28.8,"roti":0.1},{"sat":"BR","t":28.85,"roti":0.15},{"sat":"BR","t":28.9,"roti":0.06},{"sat":"BR","t":29.0,"roti":0.03},
{"sat":"OL","t":26.3,"roti":0.03},{"sat":"OL","t":26.4,"roti":0.05},{"sat":"OL","t":26.45,"roti":0.02},{"sat":"OL","t":26.5,"roti":0.06},{"sat":"OL","t":26.55,"roti":0.03},{"sat":"OL","t":26.6,"roti":0.05},{"sat":"OL","t":26.7,"roti":0.02},{"sat":"OL","t":27.5,"roti":0.02},{"sat":"OL","t":28.0,"roti":0.03},{"sat":"OL","t":28.1,"roti":0.04},{"sat":"OL","t":28.2,"roti":0.06},{"sat":"OL","t":28.3,"roti":0.07},{"sat":"OL","t":28.35,"roti":0.1},{"sat":"OL","t":28.4,"roti":0.13},{"sat":"OL","t":28.45,"roti":0.08},{"sat":"OL","t":28.5,"roti":0.2},{"sat":"OL","t":28.53,"roti":0.25},{"sat":"OL","t":28.56,"roti":0.15},{"sat":"OL","t":28.6,"roti":0.1},{"sat":"OL","t":28.65,"roti":0.22},{"sat":"OL","t":28.68,"roti":0.26},{"sat":"OL","t":28.72,"roti":0.2},{"sat":"OL","t":28.76,"roti":0.15},{"sat":"OL","t":28.8,"roti":0.05},{"sat":"OL","t":28.85,"roti":0.1},{"sat":"OL","t":28.9,"roti":0.03},
{"sat":"CY2","t":26.9,"roti":0.03},{"sat":"CY2","t":27.0,"roti":0.05},{"sat":"CY2","t":27.05,"roti":0.03},{"sat":"CY2","t":27.1,"roti":0.06},{"sat":"CY2","t":27.15,"roti":0.03},{"sat":"CY2","t":27.2,"roti":0.05},{"sat":"CY2","t":27.25,"roti":0.04},{"sat":"CY2","t":27.3,"roti":0.06},{"sat":"CY2","t":27.35,"roti":0.03},{"sat":"CY2","t":27.4,"roti":0.05},{"sat":"CY2","t":27.5,"roti":0.04},{"sat":"CY2","t":27.55,"roti":0.06},{"sat":"CY2","t":27.6,"roti":0.03},{"sat":"CY2","t":27.7,"roti":0.05},{"sat":"CY2","t":27.8,"roti":0.04},{"sat":"CY2","t":27.9,"roti":0.06},{"sat":"CY2","t":28.0,"roti":0.04},{"sat":"CY2","t":28.1,"roti":0.05},{"sat":"CY2","t":28.2,"roti":0.03},{"sat":"CY2","t":28.3,"roti":0.06},{"sat":"CY2","t":28.4,"roti":0.04},{"sat":"CY2","t":28.5,"roti":0.07},{"sat":"CY2","t":28.6,"roti":0.05},{"sat":"CY2","t":28.7,"roti":0.09},{"sat":"CY2","t":28.8,"roti":0.06},{"sat":"CY2","t":28.9,"roti":0.08},{"sat":"CY2","t":29.0,"roti":0.05},
{"sat":"TL","t":27.8,"roti":0.02},{"sat":"TL","t":28.0,"roti":0.04},{"sat":"TL","t":28.2,"roti":0.05},{"sat":"TL","t":28.4,"roti":0.08},{"sat":"TL","t":28.5,"roti":0.06},{"sat":"TL","t":28.6,"roti":0.1},{"sat":"TL","t":28.65,"roti":0.07},{"sat":"TL","t":28.7,"roti":0.12},{"sat":"TL","t":28.75,"roti":0.08},{"sat":"TL","t":28.8,"roti":0.11},{"sat":"TL","t":28.85,"roti":0.06},{"sat":"TL","t":28.9,"roti":0.1},{"sat":"TL","t":28.95,"roti":0.15},{"sat":"TL","t":29.0,"roti":0.08},
{"sat":"KL","t":28.7,"roti":0.05},{"sat":"KL","t":28.75,"roti":0.2},{"sat":"KL","t":28.78,"roti":0.4},{"sat":"KL","t":28.8,"roti":0.38},{"sat":"KL","t":28.83,"roti":0.25},{"sat":"KL","t":28.86,"roti":0.35},{"sat":"KL","t":28.9,"roti":0.3},{"sat":"KL","t":28.93,"roti":0.2},{"sat":"KL","t":28.96,"roti":0.3},{"sat":"KL","t":28.98,"roti":0.25},
{"sat":"BL","t":28.5,"roti":0.02},{"sat":"BL","t":28.6,"roti":0.05},{"sat":"BL","t":28.65,"roti":0.08},{"sat":"BL","t":28.7,"roti":0.03},{"sat":"BL","t":28.8,"roti":0.06},{"sat":"BL","t":28.85,"roti":0.1},{"sat":"BL","t":28.9,"roti":0.15},{"sat":"BL","t":28.95,"roti":0.2},{"sat":"BL","t":28.98,"roti":0.13},{"sat":"BL","t":29.0,"roti":0.05},
{"sat":"PL","t":28.9,"roti":0.02},{"sat":"PL","t":28.99,"roti":0.03},{"sat":"PL","t":29.0,"roti":0.56}
]},
"mark": {"type": "line", "strokeWidth": 4, "clip": true, "opacity": 0.9},
"encoding": {
"x": {"field": "t", "type": "quantitative", "scale": {"domain": [18, 29], "nice": false, "zero": false},
  "axis": {"title": "LOCAL TIME LT", "values": [18,19,20,21,22,23,24,25,26,27,28,29],
   "labelExpr": "datum.value <= 24 ? '' + datum.value : '0' + (datum.value - 24)",
   "labelAngle": -45, "labelAlign": "center", "labelBaseline": "middle", "labelPadding": 38, "labelFontSize": 56, "labelColor": "#111",
   "tickSize": 10, "tickWidth": 3, "tickColor": "#333", "domain": false,
   "grid": true, "gridColor": "#c4c4c4", "gridWidth": 3,
   "titleFont": "Open Sans", "titleFontSize": 60, "titleFontWeight": "normal", "titleColor": "#333", "titlePadding": 64}},
"y": {"field": "roti", "type": "quantitative", "scale": {"domain": [0, 3], "nice": false},
  "axis": {"title": "ROTI", "values": [0,0.5,1,1.5,2,2.5,3], "format": ".1f", "labelFontSize": 56, "labelColor": "#111", "labelPadding": 20,
   "tickSize": 10, "tickWidth": 3, "tickColor": "#333", "domain": false,
   "grid": true, "gridColor": "#c4c4c4", "gridWidth": 3,
   "titleFontSize": 68, "titleFontWeight": "normal", "titleColor": "#111", "titlePadding": 8}},
"color": {"field": "sat", "type": "nominal", "legend": null,
  "scale": {"domain": ["BASE","SL","C2","O3","G3","P0","Y1","Y2","G2","O1","G1","B4","B1","B3","O2","R2","P1","K1","M1","B2","K3","R1","P4","K2","K5","GR","Y3","Y5","Y4","P3","P2","K4","CY1","PM","RL","GY","BR","OL","CY2","TL","KL","BL","PL"],
   "range": ["#8b3a3a","#4a6a8a","#20a0b0","#f07d20","#3caa3c","#a070c0","#c5c33a","#cfcf55","#22b422","#ff8c1a","#4e9a2a","#5a8ad8","#3a8fc9","#4b7fd0","#ff8c2a","#e45a5a","#b07fd6","#f28cc8","#d04070","#2f86c4","#ee6aa7","#e0505f","#b888dd","#f49ad0","#f47cb8","#33aa50","#c8c83c","#d0cc40","#bdb832","#a77cd0","#b485d8","#f08ccc","#20c0d0","#a080d0","#e85050","#a0a0a0","#9a6050","#f59a3a","#17b8c8","#1a8a9a","#f08ad0","#2a80c0","#a06090"]}},
"detail": {"field": "sat"}
}
}
